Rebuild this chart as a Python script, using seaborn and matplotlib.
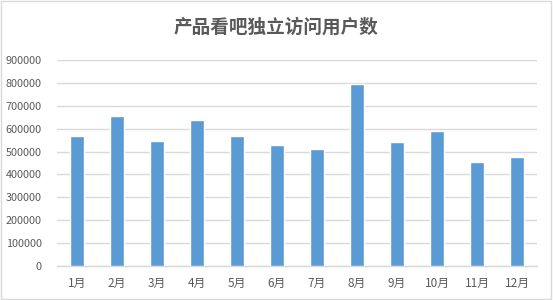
import matplotlib
matplotlib.use("Agg")
import matplotlib.pyplot as plt
import seaborn as sns
import pandas as pd
from matplotlib.patches import Rectangle

months = ["1月", "2月", "3月", "4月", "5月", "6月", "7月", "8月", "9月", "10月", "11月", "12月"]
visitors = [569000, 656000, 548000, 636000, 569000, 529000, 512000, 793000, 543000, 591000, 455000, 477000]
yticks = [0, 100000, 200000, 300000, 400000, 500000, 600000, 700000, 800000, 900000]
title = "产品看吧独立访问用户数"

sns.set_theme(style="white")
plt.rcParams['font.family'] = ['Noto Sans CJK SC', 'DejaVu Sans']

df = pd.DataFrame({"month": months, "visitors": visitors})

fig = plt.figure(figsize=(5.53, 3.00), dpi=100)
ax = fig.add_axes([57/553, 1 - 266/300, 480/553, 206/300])

sns.barplot(data=df, x="month", y="visitors", color="#5b9bd5", width=0.33,
            saturation=1, ax=ax, zorder=3)

ax.set_ylim(0, 900000)
ax.set_yticks(yticks)
ax.set_yticklabels([str(v) for v in yticks])
ax.set_xlim(-0.5, 11.5)
ax.yaxis.grid(True, color="#d9d9d9", linewidth=1, zorder=0)
ax.set_axisbelow(True)
for s in ["top", "right", "left"]:
    ax.spines[s].set_visible(False)
ax.spines["bottom"].set_color("#d9d9d9")
ax.spines["bottom"].set_linewidth(1)
ax.set_xlabel("")
ax.set_ylabel("")
ax.tick_params(axis="both", length=0, colors="#595959")
ax.tick_params(axis="y", pad=11, labelsize=7.8)
ax.tick_params(axis="x", pad=8, labelsize=8.5)

fig.text(0.5, 1 - 27.5/300, title, ha="center", va="center", fontsize=13.4,
         fontweight="bold", color="#595959")

fig.patches.append(Rectangle((0.002, 0.003), 0.995, 0.993, transform=fig.transFigure,
                             fill=False, edgecolor="#d9d9d9", linewidth=1))

fig.savefig("out.png", dpi=100)
